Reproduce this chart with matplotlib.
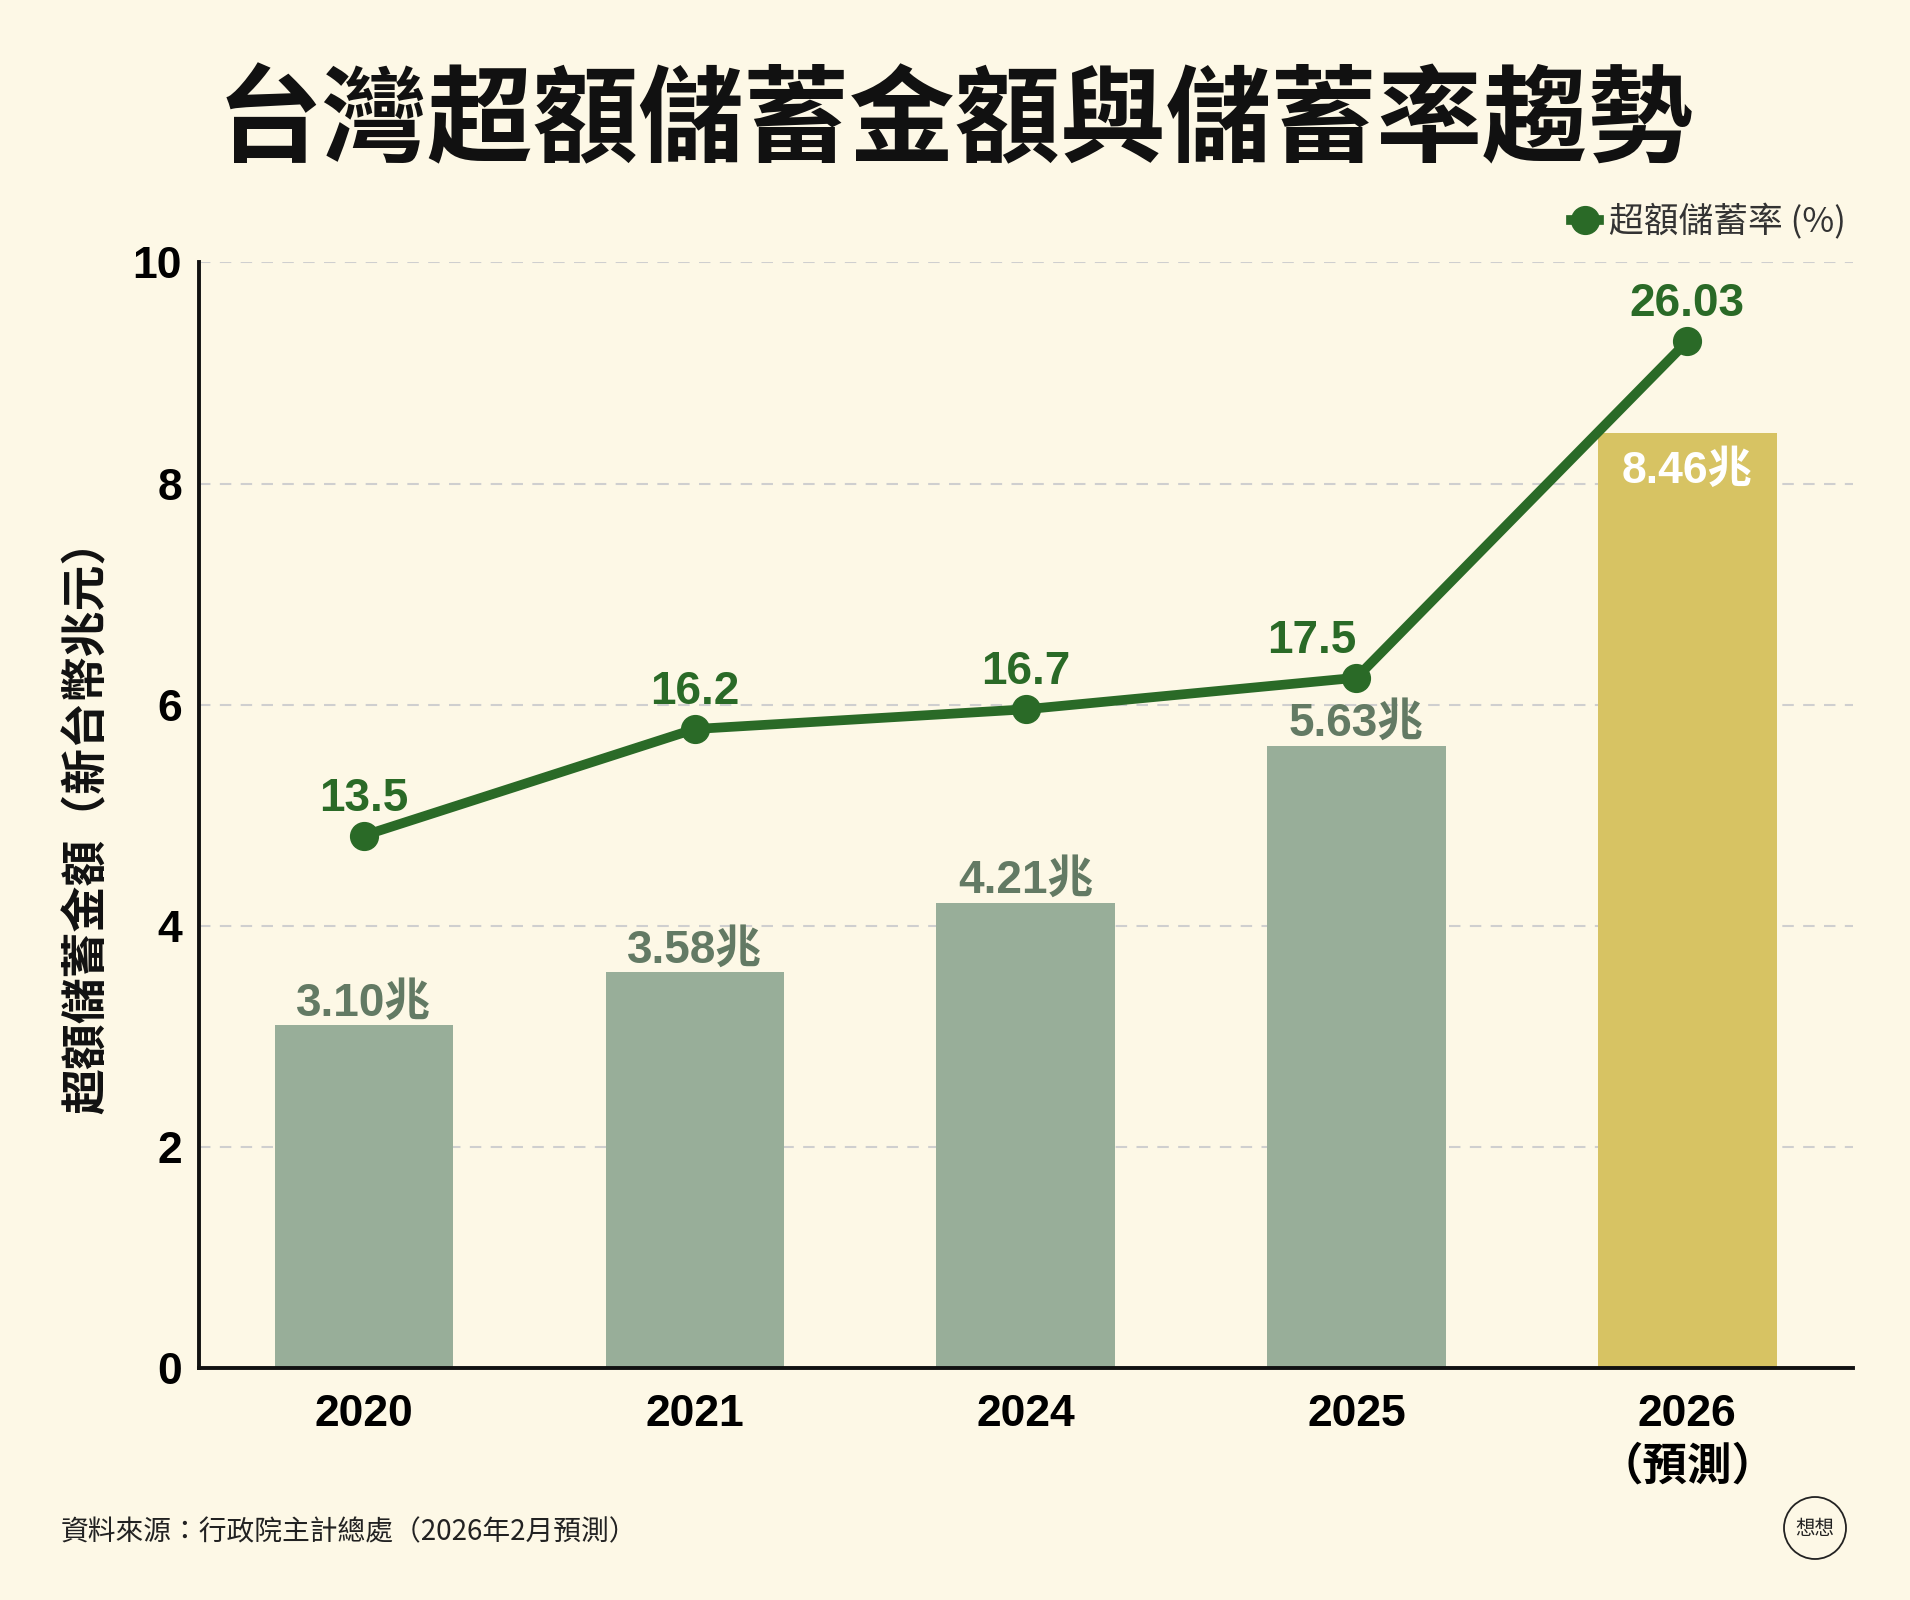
import matplotlib.pyplot as plt
from matplotlib.patches import Circle

# 資料
years = ['2020', '2021', '2024', '2025', '2026\n（預測）']
amounts = [3.10, 3.58, 4.21, 5.63, 8.46]  # 超額儲蓄金額（兆元）
rates = [13.5, 16.2, 16.7, 17.5, 26.03]  # 超額儲蓄率 (%)
amount_labels = ['3.10兆', '3.58兆', '4.21兆', '5.63兆', '8.46兆']
rate_labels = ['13.5', '16.2', '16.7', '17.5', '26.03']

bg = '#FDF8E6'
bar_color = '#98AE99'
hi_color = '#D7C363'
line_color = '#2A6A27'
bar_text = '#637A64'

cjk = ['Noto Sans CJK TC', 'DejaVu Sans']
latin = ['Liberation Sans', 'Noto Sans CJK TC']

fig = plt.figure(figsize=(19.1, 16), dpi=100, facecolor=bg)
ax = fig.add_axes([0.104, 0.145, 0.866, 0.691])
ax.set_facecolor(bg)

x = list(range(len(years)))
colors = [bar_color] * (len(years) - 1) + [hi_color]
ax.bar(x, amounts, width=0.54, color=colors, zorder=2)

ax.set_xlim(-0.5, len(years) - 0.5)
ax.set_ylim(0, 10)
ax.set_yticks([0, 2, 4, 6, 8, 10])
ax.set_xticks(x)
ax.set_xticklabels(years, fontfamily=latin, fontweight='bold', fontsize=32,
                   linespacing=1.3)
for lab in ax.get_yticklabels():
    lab.set_fontfamily(latin)
    lab.set_fontweight('bold')
    lab.set_fontsize(32)
ax.tick_params(axis='y', length=0, pad=12)
ax.tick_params(axis='x', length=0, pad=19)

ax.yaxis.grid(True, color='#CFCFCF', linewidth=1.5, linestyle=(0, (5.5, 4.5)), zorder=0)
ax.set_axisbelow(True)
for s in ['top', 'right']:
    ax.spines[s].set_visible(False)
for s in ['left', 'bottom']:
    ax.spines[s].set_linewidth(2.8)
    ax.spines[s].set_color('#111111')

# 金額標籤
for i, (v, t) in enumerate(zip(amounts, amount_labels)):
    if i == len(amounts) - 1:
        ax.annotate(t, (i, v), xytext=(0, -36), textcoords='offset points',
                    ha='center', va='baseline', color='white', fontsize=32,
                    fontweight='bold', fontfamily=latin, zorder=3)
    else:
        ax.annotate(t, (i, v), xytext=(0, 7), textcoords='offset points',
                    ha='center', va='baseline', color=bar_text, fontsize=33,
                    fontweight='bold', fontfamily=latin, zorder=3)

# 儲蓄率折線（次軸）
ax2 = ax.twinx()
ax2.set_ylim(0, 28.03)
ax2.set_xlim(ax.get_xlim())
ax2.axis('off')
ax2.plot(x, rates, color=line_color, linewidth=7, marker='o', markersize=20,
         label='超額儲蓄率 (%)', zorder=4)
for i, (v, t) in enumerate(zip(rates, rate_labels)):
    dx = -32 if i == 3 else 0
    ax2.annotate(t, (i, v), xytext=(dx, 18), textcoords='offset points',
                 ha='center', va='baseline', color=line_color, fontsize=33,
                 fontweight='bold', fontfamily=latin)

leg = ax2.legend(loc='lower right', bbox_to_anchor=(0.996, 1.02), frameon=False,
                 borderpad=0, borderaxespad=0, handlelength=0.8, handletextpad=0.3,
                 prop={'family': cjk, 'size': 25})
for t in leg.get_texts():
    t.set_color('#333333')

# 標題與說明文字
fig.text(0.5, 0.923, '台灣超額儲蓄金額與儲蓄率趨勢', ha='center', va='center',
         fontsize=76, fontweight='black', fontfamily=cjk, color='#111111')
fig.text(0.046, 0.49, '超額儲蓄金額（新台幣兆元）', rotation=90, ha='center',
         va='center', fontsize=33, fontweight='bold', fontfamily=cjk, color='#111111')
fig.text(0.032, 0.0425, '資料來源：行政院主計總處（2026年2月預測）', ha='left',
         va='center', fontsize=20, fontfamily=cjk, color='#222222')

# 右下角標誌
logo_x, logo_y = 1815 / 1910, 1 - 1528 / 1600
fig.patches.append(Circle((1815, 1600 - 1528), 31, transform=None,
                          fill=False, edgecolor='#222222', linewidth=1.3))
fig.text(logo_x, logo_y, '想想', ha='center', va='center', fontsize=14,
         fontfamily=cjk, color='#222222')

fig.savefig('out.png', dpi=100, facecolor=bg)
plt.close()
